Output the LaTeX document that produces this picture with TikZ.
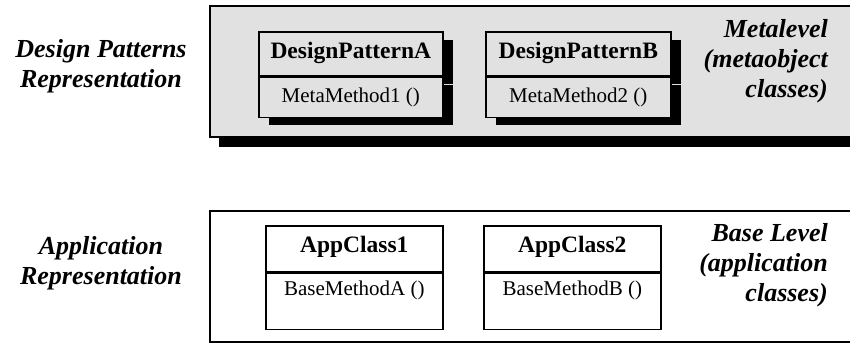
\documentclass[tikz,border=0pt]{standalone}
\usepackage{fontspec}
\setmainfont{Liberation Serif}
\usetikzlibrary{positioning,shadows}
\definecolor{metagray}{HTML}{E1E1E1}
\tikzset{
  panel/.style={line width=2pt},
  clsname/.style={draw, line width=1.6pt, inner xsep=0pt, inner ysep=0pt, font=\fontsize{23.5}{27}\selectfont\bfseries},
  clsops/.style={draw, line width=1.6pt, inner xsep=0pt, inner ysep=0pt, font=\fontsize{21}{25}\selectfont},
  metabox/.style={fill=metagray, drop shadow={shadow xshift=10pt, shadow yshift=-8pt, opacity=1, fill=black}},
  levelnote/.style={inner sep=0pt, font=\fontsize{26}{30}\selectfont\bfseries\itshape},
}

\begin{document}
\begin{tikzpicture}[x=1pt,y=-1pt]
  \useasboundingbox (0,0) rectangle (850,343);
  \clip (0,0) rectangle (850,343);
  % metalevel
  \filldraw[panel, fill=metagray, drop shadow={shadow xshift=9pt, shadow yshift=-10pt, opacity=1, fill=black}] (210,6) rectangle (870,137);
  \node[clsname, metabox, minimum width=184pt, text height=27pt, text depth=17pt, anchor=north west] (dpA) at (258,31) {DesignPatternA};
  \node[clsops, metabox, minimum width=184pt, text height=25pt, text depth=15pt, below=0pt of dpA] (dpAops) {MetaMethod1 ()};
  \node[clsname, metabox, minimum width=185pt, text height=27pt, text depth=17pt, anchor=north west] (dpB) at (485,31) {DesignPatternB};
  \node[clsops, metabox, minimum width=185pt, text height=25pt, text depth=15pt, below=0pt of dpB] (dpBops) {MetaMethod2 ()};
  % base level
  \filldraw[panel, fill=white] (210,211) rectangle (870,342);
  \node[clsname, fill=white, minimum width=177pt, text height=27pt, text depth=19pt, anchor=north west] (appA) at (265,225) {AppClass1};
  \node[clsops, fill=white, minimum width=177pt, text height=22pt, text depth=34pt, below=0pt of appA] (appAops) {BaseMethodA ()};
  \node[clsname, fill=white, minimum width=177pt, text height=27pt, text depth=19pt, anchor=north west] (appB) at (483,225) {AppClass2};
  \node[clsops, fill=white, minimum width=177pt, text height=22pt, text depth=34pt, below=0pt of appB] (appBops) {BaseMethodB ()};
  % notes (base = last line)
  \node[levelnote, align=center, anchor=base] (dpRep) at (101,87) {Design Patterns\\Representation};
  \node[levelnote, align=center, anchor=base] (appRep) at (101,284) {Application\\Representation};
  \node[levelnote, align=right, anchor=base east] (metaNote) at (828,97) {Metalevel\\(metaobject\\classes)};
  \node[levelnote, align=right, anchor=base east] (baseNote) at (828,301) {Base Level\\(application\\classes)};
\end{tikzpicture}
\end{document}
